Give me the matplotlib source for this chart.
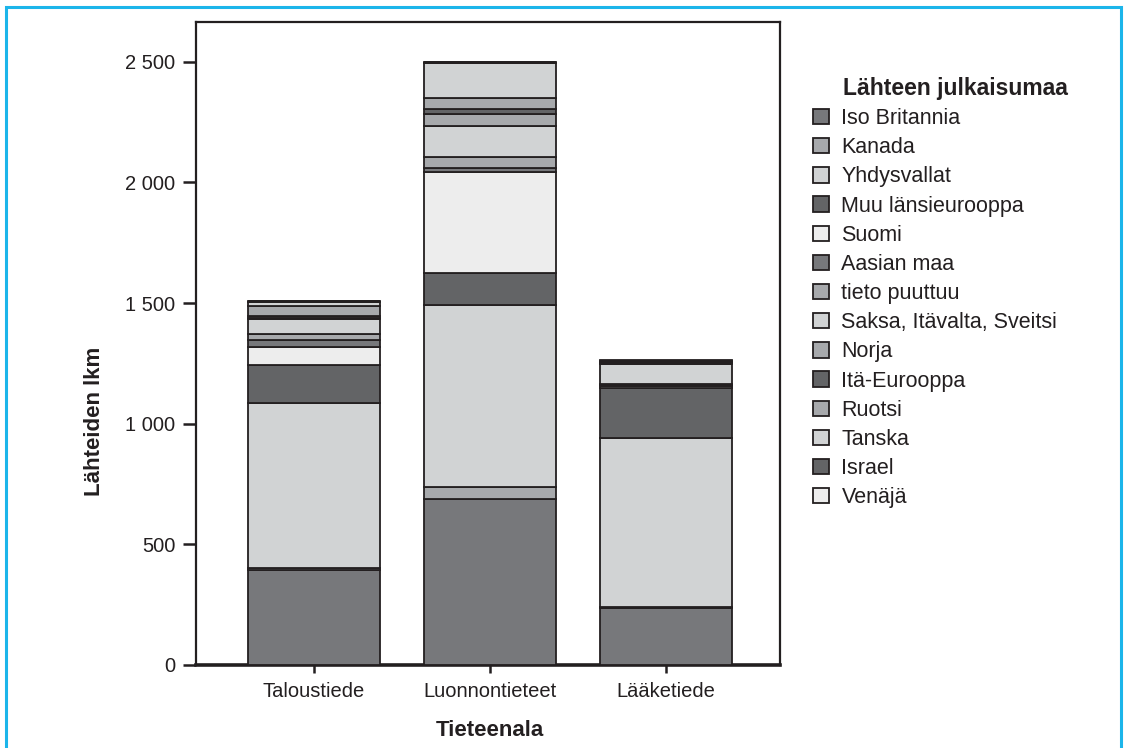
import matplotlib
matplotlib.use('Agg')
import matplotlib.pyplot as plt
from matplotlib.patches import Patch, Rectangle
import numpy as np

plt.rcParams['font.family'] = ['Liberation Sans', 'DejaVu Sans']

# Tieteenalat (x-akseli)
categories = ['Taloustiede', 'Luonnontieteet', 'Lääketiede']

# Lähteiden määrä maittain, pinottu alhaalta ylös
countries = ['Iso Britannia', 'Kanada', 'Yhdysvallat', 'Muu länsieurooppa', 'Suomi',
             'Aasian maa', 'tieto puuttuu', 'Saksa, Itävalta, Sveitsi', 'Norja',
             'Itä-Eurooppa', 'Ruotsi', 'Tanska', 'Israel', 'Venäjä']
iso_britannia = [394, 686, 238]
kanada = [6, 52, 3]
yhdysvallat = [686, 755, 699]
muu_lansieurooppa = [158, 132, 210]
suomi = [76, 417, 8]
aasian_maa = [27, 17, 3]
tieto_puuttuu = [25, 47, 5]
saksa = [63, 127, 82]
norja = [5, 51, 2]
ita_eurooppa = [8, 21, 5]
ruotsi = [40, 46, 2]
tanska = [15, 145, 2]
israel = [4, 3, 3]
venaja = [3, 2, 1]

series = [iso_britannia, kanada, yhdysvallat, muu_lansieurooppa, suomi, aasian_maa,
          tieto_puuttuu, saksa, norja, ita_eurooppa, ruotsi, tanska, israel, venaja]

# harmaasävyt
c_dark = '#77787b'
c_mid = '#a7a9ac'
c_light = '#d1d3d4'
c_darker = '#636466'
c_pale = '#ededed'
colors = [c_dark, c_mid, c_light, c_darker, c_pale, c_dark, c_mid, c_light,
          c_mid, c_darker, c_mid, c_light, c_darker, c_pale]
edge = '#231f20'

fig = plt.figure(figsize=(11.27, 7.48), dpi=100)
W, H = 1127, 748
ax = fig.add_axes([196 / W, 1 - 665 / H, 584 / W, (665 - 22) / H])

x = np.arange(len(categories))
bottom = np.zeros(len(categories))
for vals, col in zip(series, colors):
    ax.bar(x, vals, width=0.75, bottom=bottom, color=col, edgecolor=edge, linewidth=1.3, zorder=3)
    bottom += np.array(vals)

ax.set_xlim(-0.67, 2.65)
ax.set_ylim(0, 2665)

yt = [0, 500, 1000, 1500, 2000, 2500]
ax.set_yticks(yt)
ax.set_yticklabels([f'{v:,}'.replace(',', ' ') for v in yt], fontsize=14.5, color='#231f20')
ax.set_xticks(x)
ax.set_xticklabels(categories, fontsize=14.5, color='#231f20')
ax.tick_params(axis='y', length=9.5, width=1.8, pad=5.5, color=edge)
ax.tick_params(axis='x', length=6, width=1.8, pad=6.5, color=edge)

for s in ['left', 'top', 'right']:
    ax.spines[s].set_linewidth(1.6)
    ax.spines[s].set_color(edge)
ax.spines['bottom'].set_linewidth(2.6)
ax.spines['bottom'].set_color(edge)

fig.text(95 / W, 1 - 421 / H, 'Lähteiden lkm', rotation=90, ha='center', va='center',
         fontsize=16, fontweight='bold', color=edge)
fig.text(490 / W, 1 - 730 / H, 'Tieteenala', ha='center', va='center',
         fontsize=16, fontweight='bold', color=edge)

# legenda
fig.text(843 / W, 1 - 89 / H, 'Lähteen julkaisumaa', ha='left', va='center',
         fontsize=16.5, fontweight='bold', color=edge)
handles = [Patch(facecolor=c, edgecolor=edge, linewidth=1.3) for c in colors]
fig.legend(handles, countries, loc='upper left', bbox_to_anchor=(813 / W, 1 - 108 / H),
           frameon=False, fontsize=15.5, handlelength=0.72, handleheight=0.72,
           handletextpad=0.6, labelspacing=0.38, borderpad=0, borderaxespad=0,
           labelcolor=edge)

# sininen kehys
fig.patches.append(Rectangle((6 / W, -0.02), 1115 / W, 1.02 - 7 / H, transform=fig.transFigure,
                             fill=False, edgecolor='#1cb5ea', linewidth=2.2))

fig.savefig('out.png', dpi=100)
